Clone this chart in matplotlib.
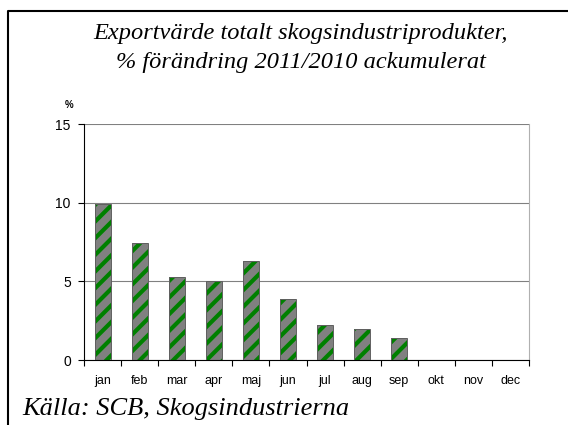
import numpy as np
import matplotlib.pyplot as plt
from matplotlib.lines import Line2D

months = ['jan', 'feb', 'mar', 'apr', 'maj', 'jun', 'jul', 'aug', 'sep', 'okt', 'nov', 'dec']
values = [9.9, 7.45, 5.3, 5.0, 6.3, 3.9, 2.2, 2.0, 1.4]

plt.rcParams['hatch.linewidth'] = 3.0

fig = plt.figure(figsize=(5.68, 4.25), dpi=100)
ax = fig.add_axes([84 / 568, 1 - 360 / 425, 445 / 568, 236 / 425])

x = np.arange(len(values))
# striped fill first, then a plain outline on top
ax.bar(x, values, width=0.43, color='#808080', edgecolor='#008000', hatch='//', linewidth=0, zorder=2)
ax.bar(x, values, width=0.43, fill=False, edgecolor='#606060', linewidth=0.7, zorder=3)

ax.set_xlim(-0.5, len(months) - 0.5)
ax.set_ylim(0, 15)
ax.set_yticks([0, 5, 10, 15])
ax.set_xticks(np.arange(len(months)))
ax.set_xticklabels(months, fontsize=9, family='Liberation Sans')
ax.set_xticks(np.arange(len(months) + 1) - 0.5, minor=True)
ax.tick_params(axis='x', which='major', length=0, pad=11)
ax.tick_params(axis='x', which='minor', length=4, width=0.8)
ax.tick_params(axis='y', length=4.5, width=0.8, labelsize=10, pad=5)
for lab in ax.get_yticklabels():
    lab.set_family('Liberation Sans')
ax.grid(axis='y', color='#808080', linewidth=0.8, zorder=0)
ax.set_axisbelow(True)
ax.spines['top'].set_visible(False)
ax.spines['right'].set_color('#b0b0b0')
ax.spines['right'].set_linewidth(0.8)
ax.spines['left'].set_linewidth(0.8)
ax.spines['bottom'].set_linewidth(0.8)

fig.text(301 / 568, 1 - 48 / 425, 'Exportvärde totalt skogsindustriprodukter,\n% förändring 2011/2010 ackumulerat',
         ha='center', va='center', fontsize=17.6, style='italic', family='Liberation Serif',
         linespacing=1.45)
fig.text(69 / 568, 1 - 105 / 425, '%', fontsize=7, weight='bold', family='Liberation Sans',
         ha='center', va='center')
fig.text(22 / 568, 1 - 415 / 425, 'Källa: SCB, Skogsindustrierna', fontsize=19, style='italic',
         family='Liberation Serif', ha='left', va='baseline')

# frame: only the top and left edges are inside the picture
fig.add_artist(Line2D([7.5 / 568, 7.5 / 568, 1.0], [0.0, 1 - 11 / 425, 1 - 11 / 425],
                      transform=fig.transFigure, color='black', linewidth=1.5))

fig.savefig('out.png', dpi=100)
